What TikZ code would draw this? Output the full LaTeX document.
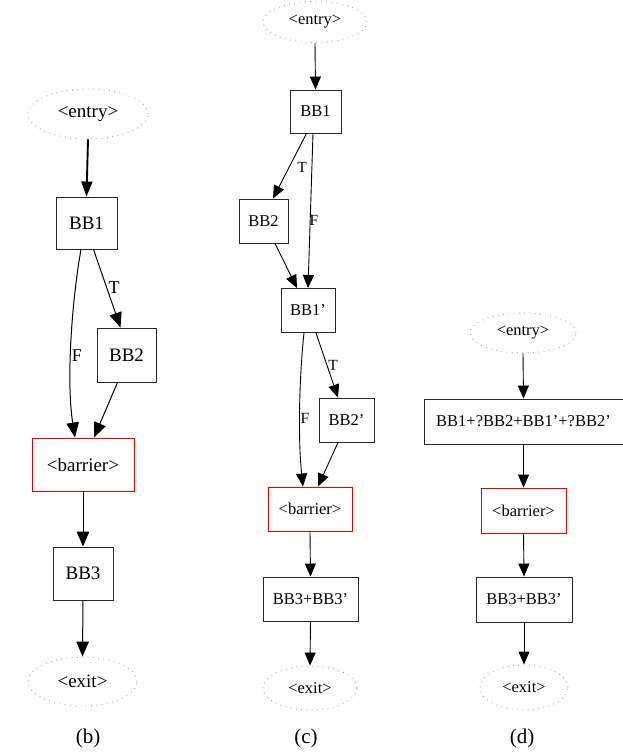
\documentclass[tikz,border=0pt]{standalone}
\usepackage{fontspec}
\setmainfont{Liberation Serif}
\usetikzlibrary{shapes.geometric,arrows.meta}
\begin{document}
\begin{tikzpicture}[x=1pt,y=-1pt,
  blkbig/.style={draw=black!85, line width=0.9pt, inner sep=0pt, font=\fontsize{19}{19}\selectfont},
  blk/.style={draw=black!85, line width=0.9pt, inner sep=0pt, font=\fontsize{16.5}{16.5}\selectfont},
  barrier/.style={draw=red!90!black, line width=0.9pt},
  terminal/.style={ellipse, draw=black!40, dash pattern=on 0.8pt off 4.5pt, line width=0.9pt, inner sep=0pt},
  flow/.style={line width=0.9pt, -{Triangle[length=13pt,width=11pt]}},
  flowbig/.style={line width=1pt, -{Triangle[length=15pt,width=12.5pt]}},
  heavyflow/.style={line width=1.9pt, -{Triangle[length=15pt,width=11pt]}},
  lblbig/.style={inner sep=0pt, font=\fontsize{18}{18}\selectfont},
  lbl/.style={inner sep=0pt, font=\fontsize{15.5}{15.5}\selectfont},
  caption/.style={inner sep=0pt, font=\fontsize{21}{21}\selectfont}
]
\useasboundingbox (0,0) rectangle (623,752);

% ---------------- (b) ----------------
\node[terminal, blkbig, draw=black!40, minimum width=120pt, minimum height=50pt] (bentry) at (88,114) {<entry>};
\node[blkbig, minimum width=61pt, minimum height=52pt] (bBB1) at (86.5,223) {BB1};
\node[blkbig, minimum width=59pt, minimum height=54pt] (bBB2) at (126.5,355) {BB2};
\node[blkbig, barrier, minimum width=102pt, minimum height=53pt] (bbar) at (83,464.5) {<barrier>};
\node[blkbig, minimum width=60pt, minimum height=53pt] (bBB3) at (83,573.5) {BB3};
\node[terminal, blkbig, draw=black!40, minimum width=109pt, minimum height=49pt] (bexit) at (82.5,681.5) {<exit>};
\node[caption] (bcap) at (88,738) {(b)};

\draw[heavyflow] (bentry.south) -- (bBB1.north);
\draw[flowbig] ([xshift=7pt]bBB1.south) -- ([xshift=-6pt]bBB2.north);
\draw[flowbig] ([xshift=-5.5pt]bBB1.south) .. controls (72,300) and (66,380) .. ([xshift=-8pt]bbar.north);
\draw[flowbig] ([xshift=-9pt]bBB2.south) -- ([xshift=11pt]bbar.north);
\draw[flowbig] (bbar.south) -- (bBB3.north);
\draw[flowbig] (bBB3.south) -- (bexit.north);
\node[lblbig] (bT) at (114,288) {T};
\node[lblbig] (bF) at (77,356) {F};

% ---------------- (c) ----------------
\node[terminal, blk, draw=black!40, minimum width=104pt, minimum height=41pt] (centry) at (315,22) {<entry>};
\node[blk, minimum width=51pt, minimum height=43pt] (cBB1) at (315.5,111.5) {BB1};
\node[blk, minimum width=49pt, minimum height=44pt] (cBB2) at (263.5,221) {BB2};
\node[blk, minimum width=54pt, minimum height=44pt] (cBB1p) at (308,310.5) {BB1'};
\node[blk, minimum width=55pt, minimum height=44pt] (cBB2p) at (346.5,420) {BB2'};
\node[blk, barrier, minimum width=84pt, minimum height=44pt] (cbar) at (310,509) {<barrier>};
\node[blk, minimum width=95pt, minimum height=44pt] (cBB3) at (310.5,599) {BB3+BB3'};
\node[terminal, blk, draw=black!40, minimum width=94pt, minimum height=44pt] (cexit) at (310,688) {<exit>};
\node[caption] (ccap) at (306,738) {(c)};

\draw[flow] (centry.south) -- (cBB1.north);
\draw[flow] ([xshift=-9pt]cBB1.south) -- ([xshift=9.5pt]cBB2.north);
\draw[flow] ([xshift=-2.5pt]cBB1.south) -- ([xshift=0pt]cBB1p.north);
\draw[flow] ([xshift=11.5pt]cBB2.south) -- ([xshift=-11pt]cBB1p.north);
\draw[flow] ([xshift=8pt]cBB1p.south) -- ([xshift=-8.5pt]cBB2p.north);
\draw[flow] ([xshift=-4pt]cBB1p.south) .. controls (299,380) and (298,440) .. ([xshift=-7pt]cbar.north);
\draw[flow] ([xshift=-8.5pt]cBB2p.south) -- ([xshift=8pt]cbar.north);
\draw[flow] (cbar.south) -- (cBB3.north);
\draw[flow] (cBB3.south) -- (cexit.north);
\node[lbl] (cT1) at (302,167) {T};
\node[lbl] (cF1) at (314,220) {F};
\node[lbl] (cT2) at (333,365) {T};
\node[lbl] (cF2) at (305,418) {F};

% ---------------- (d) ----------------
\node[terminal, blk, draw=black!40, minimum width=106pt, minimum height=40pt] (dentry) at (523,333) {<entry>};
\node[blk, minimum width=199pt, minimum height=45pt] (dBB1) at (523.5,421.5) {BB1+?BB2+BB1'+?BB2'};
\node[blk, barrier, minimum width=85pt, minimum height=45pt] (dbar) at (523.5,510.5) {<barrier>};
\node[blk, minimum width=96pt, minimum height=45pt] (dBB3) at (524,599.5) {BB3+BB3'};
\node[terminal, blk, draw=black!40, minimum width=88pt, minimum height=45pt] (dexit) at (524,687.5) {<exit>};
\node[caption] (dcap) at (522,738) {(d)};

\draw[flow] (dentry.south) -- (dBB1.north);
\draw[flow] (dBB1.south) -- (dbar.north);
\draw[flow] (dbar.south) -- (dBB3.north);
\draw[flow] (dBB3.south) -- (dexit.north);
\end{tikzpicture}
\end{document}
